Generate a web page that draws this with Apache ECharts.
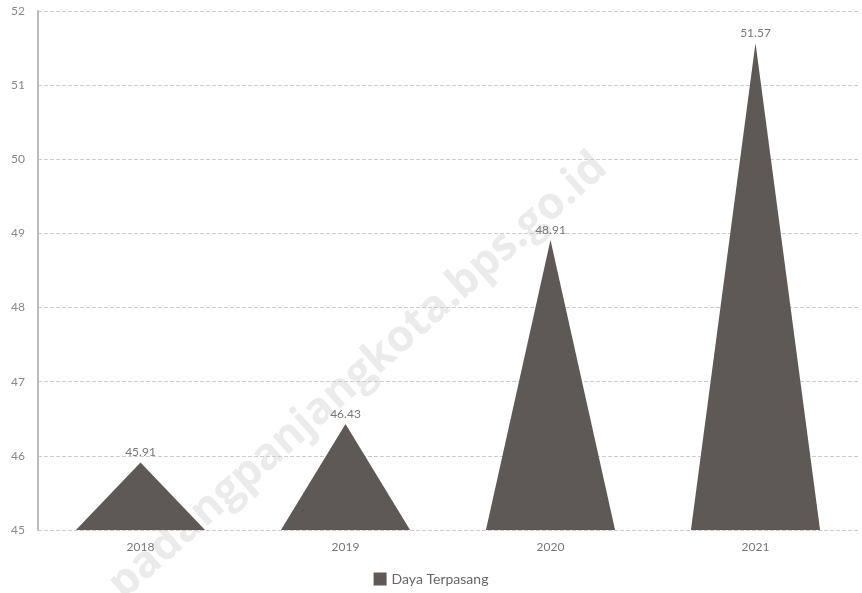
<!DOCTYPE html>
<html><head><meta charset="utf-8">
<script src="https://cdn.jsdelivr.net/npm/echarts@6/dist/echarts.min.js"></script>
<style>html,body{margin:0;padding:0;background:#fff}#c{width:862px;height:593px}</style>
</head><body><div id="c"></div>
<script>
var years = ['2018', '2019', '2020', '2021'];
var dayaTerpasang = [45.91, 46.43, 48.91, 51.57];
var seriesName = 'Daya Terpasang';
var watermark = 'padangpanjangkota.bps.go.id';

var chart = echarts.init(document.getElementById('c'));
chart.setOption({
  animation: false,
  backgroundColor: '#ffffff',
  textStyle: { fontFamily: 'Lato' },
  graphic: [{
    type: 'text', z: -10, x: 358, y: 376, rotation: Math.PI * 41.5 / 180,
    style: { text: watermark, fill: '#ebebeb', font: 'bold 44px "Open Sans"',
             textAlign: 'center', textVerticalAlign: 'middle' },
    silent: true
  }],
  grid: { left: 38, right: 4, top: 11, bottom: 63, outerBoundsMode: 'none', containLabel: false },
  legend: {
    bottom: 2, left: 'center', itemWidth: 13, itemHeight: 13, icon: 'rect', itemGap: 10,
    textStyle: { color: '#666', fontSize: 14, fontFamily: 'Lato' },
    data: [seriesName]
  },
  xAxis: {
    type: 'category', data: years,
    axisLine: { show: false }, axisTick: { show: false },
    axisLabel: { color: '#777', fontSize: 12, margin: 11 }
  },
  yAxis: {
    type: 'value', min: 45, max: 52, interval: 1, startValue: 45,
    axisLine: { show: true, lineStyle: { color: '#bbb', width: 2 } },
    axisTick: { show: false },
    axisLabel: { color: '#888', fontSize: 12, margin: 13 },
    splitLine: { lineStyle: { color: '#ccc', type: 'dashed' } }
  },
  series: [{
    name: seriesName, type: 'pictorialBar', symbol: 'triangle',
    barWidth: '63%', symbolSize: ['100%', '100%'],
    itemStyle: { color: '#5e5857' },
    label: { show: true, position: 'top', color: '#777', fontSize: 12, distance: 4 },
    data: dayaTerpasang
  }]
});
</script></body></html>
